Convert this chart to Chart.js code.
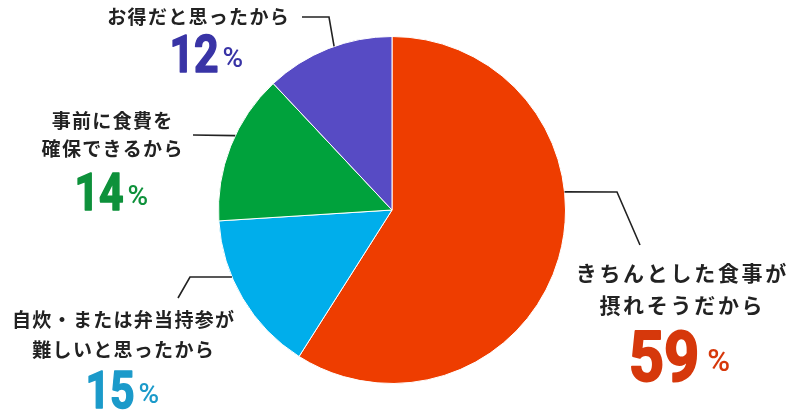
<!DOCTYPE html>
<html lang="ja">
<head>
<meta charset="utf-8">
<script src="https://cdn.jsdelivr.net/npm/chart.js@4.4.1/dist/chart.umd.min.js"></script>
<style>
  html, body { margin: 0; padding: 0; background: #fff; }
  #wrap { width: 800px; height: 420px; position: relative; }
</style>
</head>
<body>
<div id="wrap"><canvas id="pie"></canvas></div>
<script>
// 回答の内訳（%）
const reasons = [
  ['きちんとした食事が', '摂れそうだから'],
  ['自炊・または弁当持参が', '難しいと思ったから'],
  ['事前に食費を', '確保できるから'],
  ['お得だと思ったから'],
];
const shares = [59, 15, 14, 12];
const sliceColors = ['#ee3d00', '#00aeeb', '#00a23c', '#574bc4'];
const numberColors = ['#d6380b', '#1b9aca', '#0e913b', '#3934a6'];

// ラベルの配置（表示用）
const labelLayout = [
  { cx: 681, lines: [273, 305], num: { cx: 664, base: 381, big: true },
    leader: { deg: -6, pts: [[617, 192], [640, 245]] } },
  { cx: 123, lines: [320, 350], num: { cx: 110, base: 408 },
    leader: { deg: 157.3, pts: [[190, 277], [178, 298]] } },
  { cx: 112, lines: [121, 149], num: { cx: 99, base: 210 },
    leader: { deg: 205.4, pts: [[193, 135]] } },
  { cx: 198, lines: [17], num: { cx: 194, base: 72 },
    leader: { deg: -109.5, pts: [[329, 17], [302, 17]] } },
];

const JP_FONT = "'Noto Sans CJK JP', 'Noto Sans', sans-serif";
const NUM_FONT = "Roboto, 'Liberation Sans', sans-serif";

function spacedText(ctx, text, cx, cy, spacing) {
  const chars = Array.from(text);
  const widths = chars.map(c => ctx.measureText(c).width);
  const total = widths.reduce((a, b) => a + b, 0) + spacing * (chars.length - 1);
  let x = cx - total / 2;
  chars.forEach((c, i) => {
    ctx.fillText(c, x, cy);
    x += widths[i] + spacing;
  });
}

function heavyText(ctx, text, x, y, sx, weight) {
  ctx.save();
  ctx.translate(x, y);
  ctx.scale(sx, 1);
  ctx.fillText(text, 0, 0);
  if (weight) {
    ctx.lineWidth = weight;
    ctx.lineJoin = 'round';
    ctx.strokeStyle = ctx.fillStyle;
    ctx.strokeText(text, 0, 0);
  }
  ctx.restore();
}

const labelsPlugin = {
  id: 'pieLabels',
  afterDatasetsDraw(chart) {
    const ctx = chart.ctx;
    const arcs = chart.getDatasetMeta(0).data;
    const { x: ox, y: oy, outerRadius: r } = arcs[0].getProps(['x', 'y', 'outerRadius'], true);
    ctx.save();

    labelLayout.forEach((l, i) => {
      // 引き出し線
      const a = l.leader.deg * Math.PI / 180;
      ctx.beginPath();
      ctx.moveTo(ox + Math.cos(a) * r, oy + Math.sin(a) * r);
      l.leader.pts.forEach(p => ctx.lineTo(p[0], p[1]));
      ctx.strokeStyle = '#222';
      ctx.lineWidth = 1.6;
      ctx.stroke();

      // 項目名
      const big = !!l.num.big;
      ctx.fillStyle = '#222';
      ctx.font = `bold ${big ? 21 : 19}px ${JP_FONT}`;
      ctx.textBaseline = 'middle';
      ctx.textAlign = 'left';
      reasons[i].forEach((t, k) => spacedText(ctx, t, l.cx, l.lines[k], big ? 2.7 : 1.3));

      // 数値
      const numSize = big ? 70 : 51;
      const pctSize = big ? 31 : 28;
      const sx = big ? 0.88 : 0.84;
      ctx.fillStyle = numberColors[i];
      ctx.textBaseline = 'alphabetic';
      ctx.font = `bold ${numSize}px ${NUM_FONT}`;
      const numText = String(shares[i]);
      const nw = ctx.measureText(numText).width * sx;
      const gap = big ? 8 : 4;
      const left = l.num.cx - nw / 2;
      heavyText(ctx, numText, left, l.num.base, sx, big ? 2 : 1.5);
      ctx.font = `500 ${pctSize}px ${NUM_FONT}`;
      heavyText(ctx, '%', left + nw + gap, l.num.base - (big ? 10 : 5), 1, 0);
    });
    ctx.restore();
  }
};

new Chart(document.getElementById('pie'), {
  type: 'pie',
  data: {
    labels: reasons.map(r => r.join('')),
    datasets: [{
      data: shares,
      backgroundColor: sliceColors,
      borderColor: '#ffffff',
      borderWidth: 1,
    }]
  },
  options: {
    responsive: true,
    maintainAspectRatio: false,
    animation: false,
    layout: { padding: { left: 218, right: 234, top: 36, bottom: 36 } },
    plugins: { legend: { display: false }, tooltip: { enabled: false } },
  },
  plugins: [labelsPlugin],
});
</script>
</body>
</html>
